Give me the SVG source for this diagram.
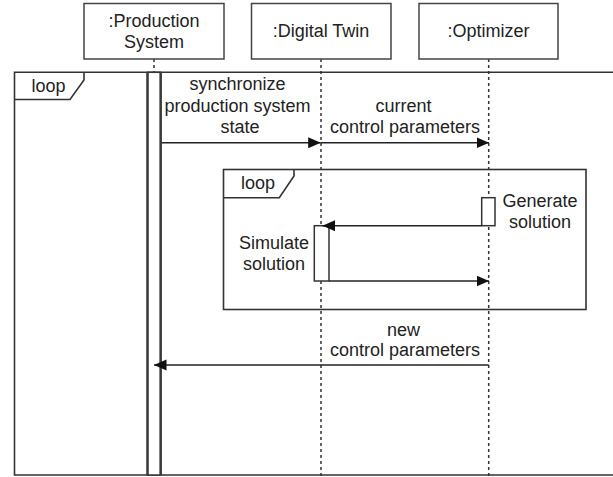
<svg xmlns="http://www.w3.org/2000/svg" width="613" height="477" viewBox="0 0 613 477">
<defs>
<style>
.box{fill:#fff;stroke:#444;stroke-width:1.5}
.frame{fill:none;stroke:#333;stroke-width:1.6}
.life{fill:none;stroke:#333;stroke-width:1.5;stroke-dasharray:3 3}
.act{fill:#fff;stroke:#333;stroke-width:1.5}
.actb{fill:none;stroke:#3a3a3a;stroke-width:2.4}
.msg{fill:none;stroke:#222;stroke-width:1.5}
text{font-family:"Liberation Sans",Arial,sans-serif;font-size:18px;fill:#222;text-anchor:middle}
</style>
<marker id="ah" markerUnits="userSpaceOnUse" markerWidth="13" markerHeight="12" refX="12.5" refY="5.5" orient="auto">
<path d="M0,0 L12.5,5.5 L0,11 z" fill="#111"/>
</marker>
</defs>
<rect width="613" height="477" fill="#fff"/>
<g id="lifelines">
<line class="life" x1="154" y1="59" x2="154" y2="72"/>
<line class="life" x1="321" y1="59" x2="321" y2="477"/>
<line class="life" x1="488.7" y1="59" x2="488.7" y2="477"/>
</g>
<g id="outer-loop">
<path class="frame" d="M614,72.3 H14.5 V475 H614"/>
<path class="frame" d="M14.5,99.5 H70 L84,80 V72.3"/>
<text x="48.5" y="92">loop</text>
</g>
<g id="production-system">
<rect class="box" x="84" y="3.5" width="140" height="55.5"/>
<text x="154" y="27.3">:Production</text>
<text x="154" y="48.3">System</text>
<rect class="act" x="147.5" y="72.3" width="13" height="402.7"/>
<path class="actb" d="M147.5,72.3 V475 M160.7,72.3 V475"/>
</g>
<g id="digital-twin">
<rect class="box" x="251.5" y="3.5" width="139.5" height="55.5"/>
<text x="321" y="37.3">:Digital Twin</text>
</g>
<g id="optimizer">
<rect class="box" x="419" y="3.5" width="139" height="55.5"/>
<text x="488.5" y="37.3">:Optimizer</text>
</g>
<g id="inner-loop">
<rect class="frame" x="223.5" y="169.5" width="362.5" height="140"/>
<path class="frame" d="M223.5,197.7 H279.3 L294,176 V169.5"/>
<text x="258" y="189.3">loop</text>
</g>
<g id="simulate-activation">
<rect class="act" x="314.3" y="225.7" width="14.7" height="55.3"/>
<text x="274" y="249.3">Simulate</text>
<text x="274" y="270">solution</text>
</g>
<g id="generate-activation">
<rect class="act" x="481.7" y="197.7" width="13.3" height="28"/>
<text x="540" y="206.7">Generate</text>
<text x="540" y="228.3">solution</text>
</g>
<g id="connectors">
<line class="msg" x1="161.5" y1="142.7" x2="320.7" y2="142.7" marker-end="url(#ah)"/>
<line class="msg" x1="321" y1="142.7" x2="489" y2="142.7" marker-end="url(#ah)"/>
<line class="msg" x1="481.7" y1="225.7" x2="322.5" y2="225.7" marker-end="url(#ah)"/>
<line class="msg" x1="329" y1="281" x2="489" y2="281" marker-end="url(#ah)"/>
<line class="msg" x1="488.7" y1="365" x2="154" y2="365" marker-end="url(#ah)"/>
<text x="237.5" y="90">synchronize</text>
<text x="237.5" y="111.5">production system</text>
<text x="240" y="132.7">state</text>
<text x="403.5" y="112.3">current</text>
<text x="405" y="133">control parameters</text>
<text x="403.5" y="335.7">new</text>
<text x="405" y="356">control parameters</text>
</g>
</svg>
